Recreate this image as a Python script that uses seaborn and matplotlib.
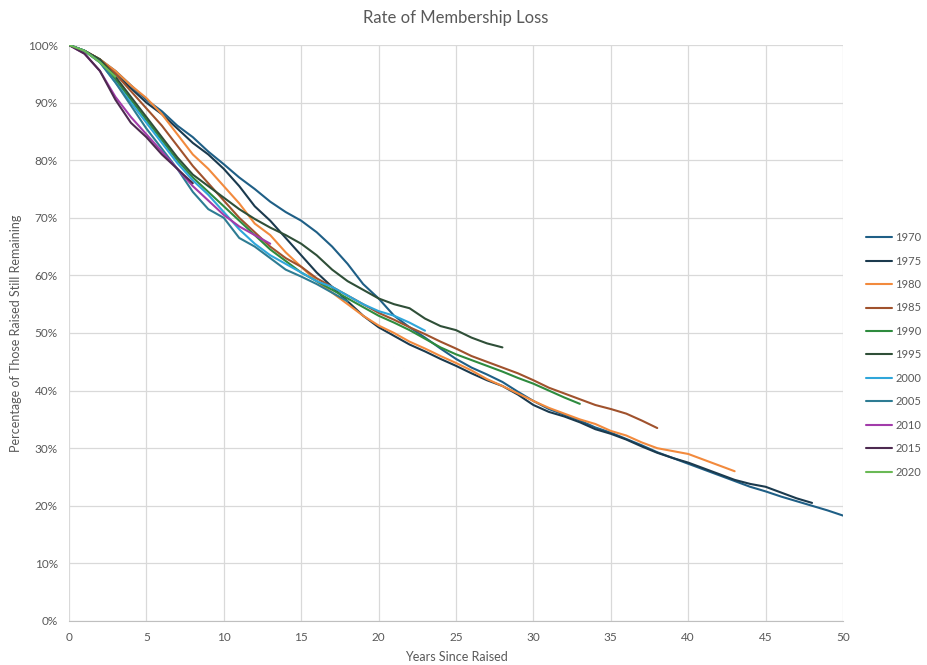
import pandas as pd
import matplotlib.pyplot as plt
import seaborn as sns

# cohort -> share still remaining (%) by years since raised
y1970 = [100, 99, 97.5, 95.5, 93, 90.5, 88.5, 86, 84, 81.5, 79.3, 77, 75, 72.8, 71, 69.5,
         67.5, 65, 62, 58.5, 56, 53, 51, 49.2, 47.3, 45.5, 44, 42.8, 41.5, 39.8, 38.2,
         36.8, 35.8, 34.8, 33.6, 32.7, 31.6, 30.5, 29.3, 28.3, 27.3, 26.3, 25.3, 24.3,
         23.3, 22.5, 21.6, 20.8, 20, 19.2, 18.3]
y1975 = [100, 99, 97.5, 95, 92.5, 90, 88, 85.5, 83, 81, 78.5, 75.5, 72, 69.5, 66.5, 63.5,
         60.5, 58, 55.5, 53, 51, 49.5, 48, 46.8, 45.5, 44.3, 43, 41.8, 40.8, 39.3, 37.5,
         36.3, 35.5, 34.5, 33.3, 32.5, 31.5, 30.3, 29.2, 28.3, 27.5, 26.5, 25.5, 24.5,
         23.8, 23.3, 22.3, 21.3, 20.5]
y1980 = [100, 99, 97.5, 95.5, 93, 90.8, 88, 84.5, 81, 78.5, 75.5, 72.5, 69, 67, 64, 61.5,
         59, 57, 55, 53, 51.3, 50, 48.5, 47.3, 46, 44.8, 43.5, 42, 40.8, 39.5, 38.2, 37,
         36, 35, 34.2, 33, 32.2, 31, 30, 29.5, 29, 28, 27, 26]
y1985 = [100, 99, 97.5, 95, 92, 89, 86, 82.5, 79, 76, 73, 70, 67.5, 65, 63, 61.5, 59.5,
         58, 56.5, 55, 53.5, 52.3, 51, 49.8, 48.5, 47.3, 46, 45, 44, 43, 41.8, 40.5, 39.5,
         38.5, 37.5, 36.8, 36, 34.8, 33.5]
y1990 = [100, 99, 97, 94, 90.5, 87, 83.5, 80, 77, 74.5, 72, 69.5, 67, 64.5, 62.5, 60.5,
         59, 57.5, 56, 54.5, 53, 51.8, 50.5, 49, 47.5, 46.3, 45.3, 44.3, 43.3, 42.2, 41.2,
         40, 38.8, 37.7]
y1995 = [100, 99, 97.5, 94.5, 91, 87.5, 84, 80.5, 77.5, 75.5, 73.5, 71.5, 69.8, 68.3, 67,
         65.5, 63.5, 61, 59, 57.5, 56, 55, 54.3, 52.5, 51.2, 50.5, 49.2, 48.2, 47.5]
y2000 = [100, 99, 97, 93.5, 90, 86.5, 83, 79.5, 76.5, 74, 71, 68, 65.5, 63.5, 62, 60.5,
         59, 58, 56.5, 55, 53.8, 53, 51.8, 50.4]
y2005 = [100, 99, 97, 93.5, 89.5, 85.5, 82, 78.5, 74.5, 71.5, 70, 66.5, 65, 63, 61, 59.8,
         58.5, 57, 55.5]
y2010 = [100, 98.5, 95.5, 91, 87.5, 84.5, 81.5, 78.5, 75.5, 73, 70.5, 68.5, 67, 65.5]
y2015 = [100, 98.5, 95.5, 90.5, 86.5, 84, 81, 78.5, 76]
y2020 = [100, 99, 97, 94.5]

cohorts = ["1970", "1975", "1980", "1985", "1990", "1995", "2000", "2005", "2010", "2015", "2020"]
series = [y1970, y1975, y1980, y1985, y1990, y1995, y2000, y2005, y2010, y2015, y2020]
colors = ["#1F5F86", "#1B3A4E", "#F28A3D", "#A0522D", "#2E8B3E", "#2F4F38",
          "#2FA6DA", "#2E7C93", "#A23BAA", "#4D2A50", "#6AB955"]

rows = []
for c, vals in zip(cohorts, series):
    for yr, v in enumerate(vals):
        rows.append({"cohort": c, "years": yr, "remaining": v / 100})
df = pd.DataFrame(rows)

sns.set_style("white")
plt.rcParams["font.family"] = ["Lato", "DejaVu Sans"]
grey = "#595959"

fig = plt.figure(figsize=(9.27, 6.65), dpi=100)
ax = fig.add_axes([0.0744, 0.0662, 0.835, 0.8661])

sns.lineplot(data=df, x="years", y="remaining", hue="cohort", hue_order=cohorts,
             palette=dict(zip(cohorts, colors)), linewidth=1.5, ax=ax, sort=True)

ax.set_xlim(0, 50)
ax.set_ylim(0, 1)
ax.set_xticks(range(0, 51, 5))
ax.set_yticks([i / 10 for i in range(11)])
ax.set_yticklabels([f"{i * 10}%" for i in range(11)])
ax.tick_params(colors=grey, labelsize=8.5, length=0, pad=8)
ax.grid(True, color="#D9D9D9", linewidth=0.9)
ax.set_axisbelow(True)
for s in ["top", "right", "left"]:
    ax.spines[s].set_visible(False)
ax.spines["bottom"].set_color("#BFBFBF")

ax.set_xlabel("Years Since Raised", color=grey, fontsize=9, labelpad=6)
ax.set_ylabel("Percentage of Those Raised Still Remaining", color=grey, fontsize=9)
ax.set_title("Rate of Membership Loss", color=grey, fontsize=12, pad=16)

leg = ax.legend(loc="center left", bbox_to_anchor=(1.03, 0.462), frameon=False,
                fontsize=8, labelspacing=1.12, handlelength=2.3, handletextpad=0.3,
                borderpad=0, borderaxespad=0)
for t in leg.get_texts():
    t.set_color(grey)

fig.savefig("out.png", dpi=100)
